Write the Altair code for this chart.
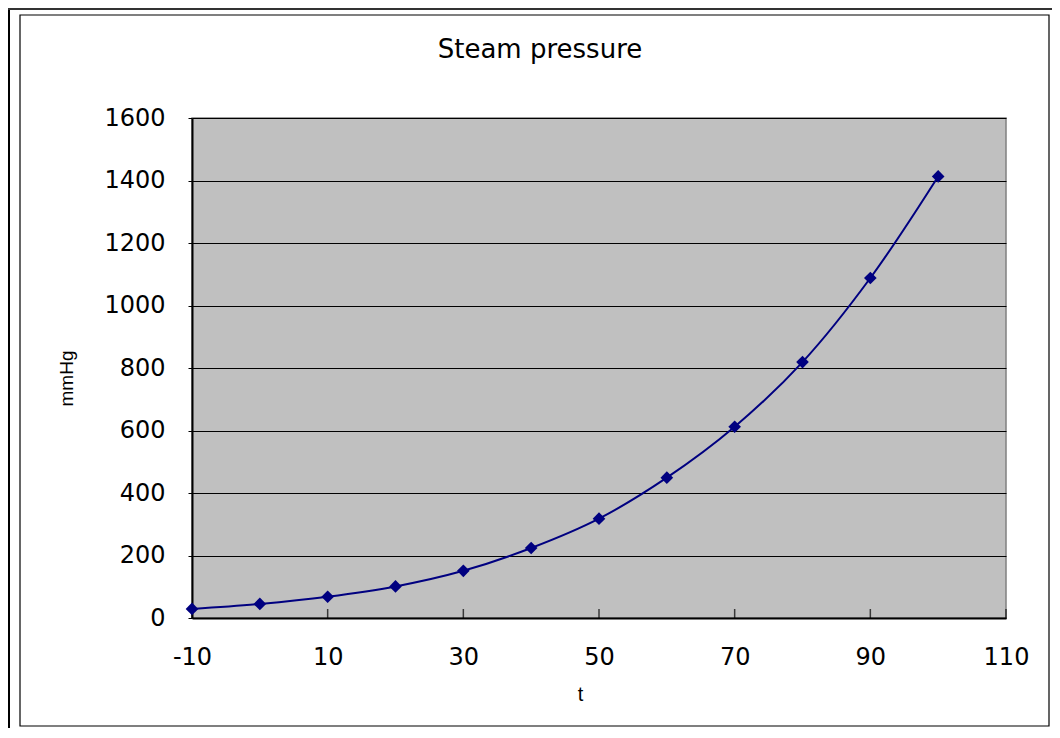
import altair as alt
import pandas as pd

# Data
temps = [-10, 0, 10, 20, 30, 40, 50, 60, 70, 80, 90, 100]
pressure = [29, 45, 68, 101, 151, 224, 318, 449, 612, 819, 1088, 1413]
x_ticks = [-10, 10, 30, 50, 70, 90, 110]
y_ticks = [0, 200, 400, 600, 800, 1000, 1200, 1400, 1600]
chart_title = "Steam pressure"

df = pd.DataFrame({"t": temps, "mmHg": pressure})
tick_df = pd.DataFrame({"t": x_ticks})
one = pd.DataFrame({"k": [0]})

W, H = 814, 500
NAVY = "#000080"

xs = alt.Scale(domain=[-10, 110], nice=False, zero=False)
ys = alt.Scale(domain=[0, 1600], nice=False)

x_axis = alt.Axis(
    values=x_ticks, grid=False, tickSize=0, labelPadding=27,
    labelFlush=False,
    labelExpr="datum.value < 0 ? '-' + abs(datum.value) : '' + datum.value",
    labelFont="DejaVu Sans", labelFontSize=24, labelColor="black",
    domainColor="black", domainWidth=2,
    title="t", titleFont="Liberation Sans", titleFontSize=20,
    titleFontWeight="normal", titleColor="black",
    titleX=388, titleY=82, titleAlign="center", titleBaseline="alphabetic",
)
y_axis = alt.Axis(
    values=y_ticks, grid=True, gridColor="black", gridWidth=1,
    tickSize=4, tickColor="black", labelPadding=23, format="d",
    labelFlush=False,
    labelFont="DejaVu Sans", labelFontSize=24, labelColor="black",
    domainColor="black", domainWidth=2,
    title="mmHg", titleFont="Liberation Sans", titleFontSize=19,
    titleFontWeight="normal", titleColor="black",
    titleX=-126, titleY=260, titleAngle=270, titleAlign="center",
    titleBaseline="middle",
)

inner_frame = alt.Chart(one).mark_rect(
    filled=False, stroke="black", strokeWidth=1.2
).encode(
    x=alt.value(-172), x2=alt.value(857), y=alt.value(-103), y2=alt.value(608)
)
outer_left = alt.Chart(one).mark_rule(color="black", strokeWidth=2).encode(
    x=alt.value(-183), y=alt.value(-110), y2=alt.value(610)
)
outer_top = alt.Chart(one).mark_rule(color="#333333", strokeWidth=2).encode(
    x=alt.value(-184), x2=alt.value(860), y=alt.value(-109)
)
title_text = alt.Chart(pd.DataFrame({"title": [chart_title]})).mark_text(
    font="DejaVu Sans", fontSize=26, color="black", align="center",
    baseline="alphabetic",
).encode(text="title:N", x=alt.value(348), y=alt.value(-60))

line = alt.Chart(df).mark_line(
    color=NAVY, strokeWidth=2, interpolate="catmull-rom"
).encode(
    x=alt.X("t:Q", scale=xs, axis=x_axis),
    y=alt.Y("mmHg:Q", scale=ys, axis=y_axis),
)
points = alt.Chart(df).mark_point(
    shape="diamond", filled=True, color=NAVY, size=160, opacity=1
).encode(x=alt.X("t:Q", scale=xs), y=alt.Y("mmHg:Q", scale=ys))

inner_ticks = alt.Chart(tick_df).mark_tick(
    color="black", thickness=1.5, size=9, orient="vertical"
).encode(x=alt.X("t:Q", scale=xs), y=alt.value(H - 4.5))

chart = alt.layer(
    inner_frame, outer_left, outer_top, title_text, line, inner_ticks, points
).properties(
    width=W, height=H,
    autosize=alt.AutoSizeParams(type="none"),
    padding={"left": 184, "top": 110, "right": 46, "bottom": 110},
    background="white",
).configure_view(
    fill="#C0C0C0", stroke="#808080", strokeWidth=1.5
)

chart.save("out.html", embed_options={"renderer": "svg", "actions": False})
